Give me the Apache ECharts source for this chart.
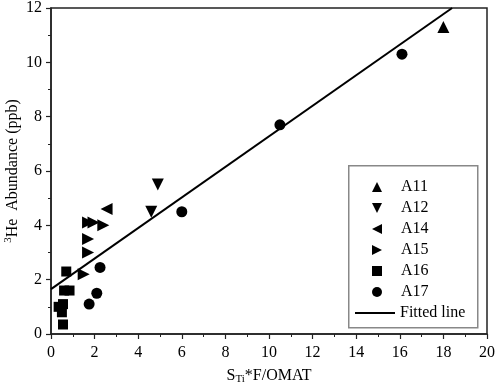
<!DOCTYPE html>
<html>
<head>
<meta charset="utf-8">
<script src="https://cdn.jsdelivr.net/npm/echarts@6/dist/echarts.min.js"></script>
<style>
  html, body { margin: 0; padding: 0; background: #fff; }
  #chart { width: 498px; height: 386px; }
</style>
</head>
<body>
<div id="chart"></div>
<script>
// sample points: [x, y]
const a11 = [[18.0, 11.3]];
const a12 = [[4.6, 4.5], [4.9, 5.5]];
const a14 = [[2.55, 4.6]];
const a15 = [[1.7, 4.1], [1.95, 4.1], [2.4, 4.0], [1.7, 3.5], [1.7, 3.0], [1.5, 2.2]];
const a16 = [[0.7, 2.3], [0.6, 1.6], [0.85, 1.6], [0.35, 1.0], [0.55, 1.1], [0.5, 0.8], [0.55, 0.35]];
const a17 = [[2.25, 2.45], [2.1, 1.5], [1.75, 1.1], [6.0, 4.5], [10.5, 7.7], [16.1, 10.3]];
const fitted = [[0, 1.65], [18.4, 12]];

const FONT = "Liberation Serif";
const INK = "#000";

// triangle icons for the legend, one per pointing direction
const TRI_UP = "path://M5,0 L10,10 L0,10 Z";
const TRI_DOWN = "path://M0,0 L10,0 L5,10 Z";
const TRI_LEFT = "path://M0,5 L10,0 L10,10 Z";
const TRI_RIGHT = "path://M0,0 L10,5 L0,10 Z";

const chart = echarts.init(document.getElementById("chart"));

const scatter = (name, data, symbol, rotate, size) => ({
  name,
  type: "scatter",
  data,
  symbol,
  symbolRotate: rotate,
  symbolSize: size,
  itemStyle: { color: INK, opacity: 1 },
  z: 3
});

const axisCommon = {
  type: "value",
  nameLocation: "middle",
  nameMoveOverlap: false,
  axisLine: { lineStyle: { color: "#222", width: 1.5 } },
  axisTick: { show: true, inside: false, length: 5, lineStyle: { color: "#222", width: 1.2 } },
  minorTick: { show: true, splitNumber: 2, length: 3, lineStyle: { color: "#222", width: 1 } },
  splitLine: { show: false }
};

const option = {
  animation: false,
  backgroundColor: "#fff",
  grid: {
    left: 51,
    right: 11,
    top: 8,
    bottom: 52,
    outerBoundsMode: "none",
    containLabel: false,
    show: true,
    borderColor: "#222",
    borderWidth: 1.5
  },
  // legend frame
  graphic: [{
    type: "rect",
    left: 348,
    top: 165,
    shape: { width: 129, height: 162 },
    style: { fill: "#fff", stroke: "#888", lineWidth: 1.5 },
    z: 10
  }],
  xAxis: {
    ...axisCommon,
    min: 0,
    max: 20,
    interval: 2,
    name: "{a|S}{s|Ti}{a|*F/OMAT}",
    nameGap: 32,
    nameTextStyle: {
      rich: {
        a: { fontFamily: FONT, fontSize: 16, color: INK },
        s: { fontFamily: FONT, fontSize: 11, color: INK, verticalAlign: "bottom", padding: [8, 0, 0, 0] }
      }
    },
    axisLabel: { fontFamily: FONT, fontSize: 16, color: INK, margin: 11 }
  },
  yAxis: {
    ...axisCommon,
    min: 0,
    max: 12,
    interval: 2,
    name: "{s|3}{a|He  Abundance (ppb)}",
    nameGap: 29,
    nameTextStyle: {
      rich: {
        a: { fontFamily: FONT, fontSize: 16, color: INK },
        s: { fontFamily: FONT, fontSize: 11, color: INK, verticalAlign: "top", padding: [0, 0, 8, 0] }
      }
    },
    axisLabel: { fontFamily: FONT, fontSize: 16, color: INK, margin: 9 }
  },
  legend: [
    {
      orient: "vertical",
      left: 372,
      top: 179,
      padding: 0,
      itemWidth: 10,
      itemHeight: 10,
      itemGap: 5,
      z: 11,
      textStyle: { fontFamily: FONT, fontSize: 16, color: INK, padding: [0, 0, 0, 14] },
      data: [
        { name: "A11", icon: TRI_UP },
        { name: "A12", icon: TRI_DOWN },
        { name: "A14", icon: TRI_LEFT },
        { name: "A15", icon: TRI_RIGHT },
        { name: "A16", icon: "rect" },
        { name: "A17", icon: "circle" }
      ]
    },
    {
      left: 355,
      top: 305,
      padding: 0,
      itemWidth: 40,
      itemHeight: 2,
      z: 11,
      textStyle: { fontFamily: FONT, fontSize: 16, color: INK },
      data: [{ name: "Fitted line", icon: "rect" }]
    }
  ],
  series: [
    scatter("A11", a11, "triangle", 0, 12),
    scatter("A12", a12, "triangle", 180, 12),
    scatter("A14", a14, "triangle", 90, 12),
    scatter("A15", a15, "triangle", -90, 12),
    scatter("A16", a16, "rect", 0, 10),
    scatter("A17", a17, "circle", 0, 11),
    {
      name: "Fitted line",
      type: "line",
      data: fitted,
      symbol: "none",
      lineStyle: { color: INK, width: 2 },
      itemStyle: { color: INK },
      z: 2
    }
  ]
};

chart.setOption(option);
</script>
</body>
</html>
